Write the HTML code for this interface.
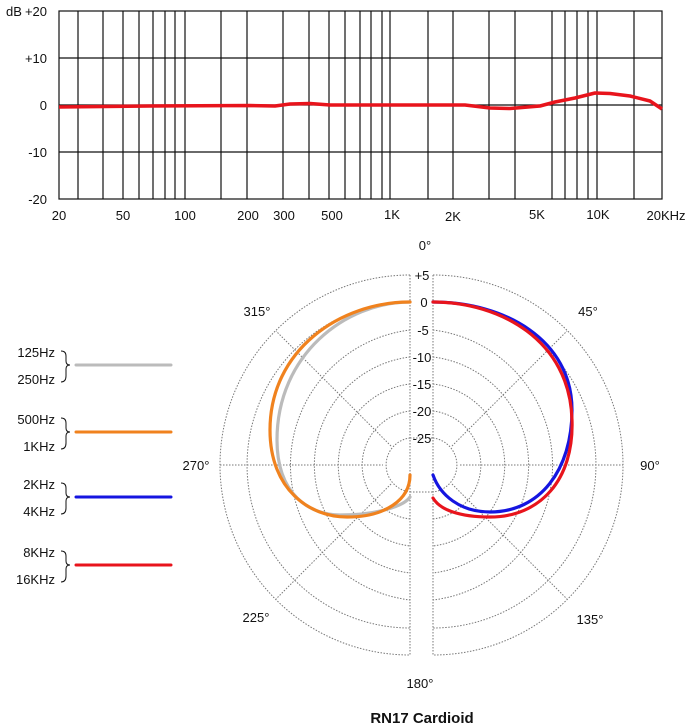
<!DOCTYPE html>
<html><head><meta charset="utf-8"><style>
body{margin:0;background:#fff}
svg{display:block;font-family:"Liberation Sans",sans-serif}
</style></head><body>
<svg width="690" height="728" viewBox="0 0 690 728">
<g stroke="#111" stroke-width="1.2" fill="none">
<rect x="59" y="11" width="603" height="188"/>
<path d="M59 58H662M59 105H662M59 152H662"/>
<path d="M78 11V199M103 11V199M123 11V199M139 11V199M153 11V199M165 11V199M175 11V199M185 11V199M221 11V199M247 11V199M283 11V199M309 11V199M329 11V199M345 11V199M360 11V199M371 11V199M382 11V199M390 11V199M428 11V199M453 11V199M489 11V199M515 11V199M552 11V199M565 11V199M577 11V199M588 11V199M597 11V199M634 11V199"/>
</g>
<path d="M59 107 L150 106 L250 105.5 L275 106 L290 104 L310 103.5 L330 105 L400 105 L465 105 L490 108 L510 108.5 L540 106 L555 102 L575 98 L595 93 L610 93.5 L630 96 L650 101 L662 109" stroke="#e8141c" stroke-width="3.5" fill="none" stroke-linejoin="round"/>
<g font-size="13" fill="#111" text-anchor="end">
<text x="47" y="16">+20</text><text x="6" y="16" text-anchor="start">dB</text>
<text x="47" y="63">+10</text><text x="47" y="110">0</text>
<text x="47" y="157">-10</text><text x="47" y="204">-20</text>
</g>
<g font-size="13" fill="#111" text-anchor="middle">
<text x="59" y="220">20</text><text x="123" y="220">50</text><text x="185" y="220">100</text>
<text x="248" y="220">200</text><text x="284" y="220">300</text><text x="332" y="220">500</text>
<text x="392" y="219">1K</text><text x="453" y="221">2K</text><text x="537" y="219">5K</text>
<text x="598" y="219">10K</text><text x="666" y="220">20KHz</text>
</g>
<!-- polar grid -->
<g stroke="#777" stroke-width="1" fill="none" stroke-dasharray="1.5 1.5">
<path d="M410 438A27.2 27.2 0 0 0 410 492M410 411A54.4 54.4 0 0 0 410 519M410 384A81.6 81.6 0 0 0 410 546M410 357A108.8 108.8 0 0 0 410 573M410 330A136 136 0 0 0 410 600M410 302A163 163 0 0 0 410 628M410 275A190 190 0 0 0 410 655"/>
<path d="M433 438A27.2 27.2 0 0 1 433 492M433 411A54.4 54.4 0 0 1 433 519M433 384A81.6 81.6 0 0 1 433 546M433 357A108.8 108.8 0 0 1 433 573M433 330A136 136 0 0 1 433 600M433 302A163 163 0 0 1 433 628M433 275A190 190 0 0 1 433 655"/>
<path d="M410 438H433M410 492H433"/>
<path d="M410 275V655M433 275V655M220 465H383M460 465H623"/>
<path d="M391 446L276 331M391 484L276 599M452 446L567 331M452 484L567 599"/>
</g>
<g font-size="13" fill="#111" text-anchor="middle">
<text x="422" y="280">+5</text><text x="424" y="307">0</text><text x="423" y="335">-5</text>
<text x="422" y="362">-10</text><text x="422" y="389">-15</text><text x="422" y="416">-20</text><text x="422" y="443">-25</text>
<text x="425" y="250">0°</text><text x="588" y="316">45°</text><text x="650" y="470">90°</text>
<text x="590" y="624">135°</text><text x="420" y="688">180°</text><text x="256" y="622">225°</text>
<text x="196" y="470">270°</text><text x="257" y="316">315°</text>
</g>
<g fill="none" stroke-width="3.2" stroke-linecap="round">
<path d="M410 302 C345 302 277 355 277 440 C277 495 310 515 340 515 C380 515 405 505 410 497" stroke="#bbb"/>
<path d="M410 302 C340 302 270 350 270 430 C270 490 310 517 347 517 C385 517 410 500 410 475" stroke="#f0821e"/>
<path d="M433 302 C505 302 572 340 572 410 C572 470 540 512 490 512 C460 512 440 495 433 475" stroke="#1515e0"/>
<path d="M433 302 C500 302 570 340 572 420 C574 480 540 517 490 517 C460 517 440 510 433 498" stroke="#e8141c"/>
</g>
<!-- legend -->
<g font-size="13" fill="#111" text-anchor="end">
<text x="55" y="357">125Hz</text><text x="55" y="384">250Hz</text>
<text x="55" y="424">500Hz</text><text x="55" y="451">1KHz</text>
<text x="55" y="489">2KHz</text><text x="55" y="516">4KHz</text>
<text x="55" y="557">8KHz</text><text x="55" y="584">16KHz</text>
</g>
<g fill="none" stroke="#111" stroke-width="1">
<path d="M61 351 Q66 351 66 356 V361 Q66 365 70 365 Q66 365 66 369 V376 Q66 382 61 382"/>
<path d="M61 418 Q66 418 66 423 V428 Q66 432 70 432 Q66 432 66 436 V443 Q66 449 61 449"/>
<path d="M61 483 Q66 483 66 488 V493 Q66 497 70 497 Q66 497 66 501 V508 Q66 514 61 514"/>
<path d="M61 551 Q66 551 66 556 V561 Q66 565 70 565 Q66 565 66 569 V576 Q66 582 61 582"/>
</g>
<g stroke-width="3" stroke-linecap="round">
<path d="M76 365H171" stroke="#bbb"/><path d="M76 432H171" stroke="#f0821e"/>
<path d="M76 497H171" stroke="#1515e0"/><path d="M76 565H171" stroke="#e8141c"/>
</g>
<text x="422" y="723" font-size="15" font-weight="bold" text-anchor="middle" fill="#111">RN17 Cardioid</text>
</svg>
</body></html>
